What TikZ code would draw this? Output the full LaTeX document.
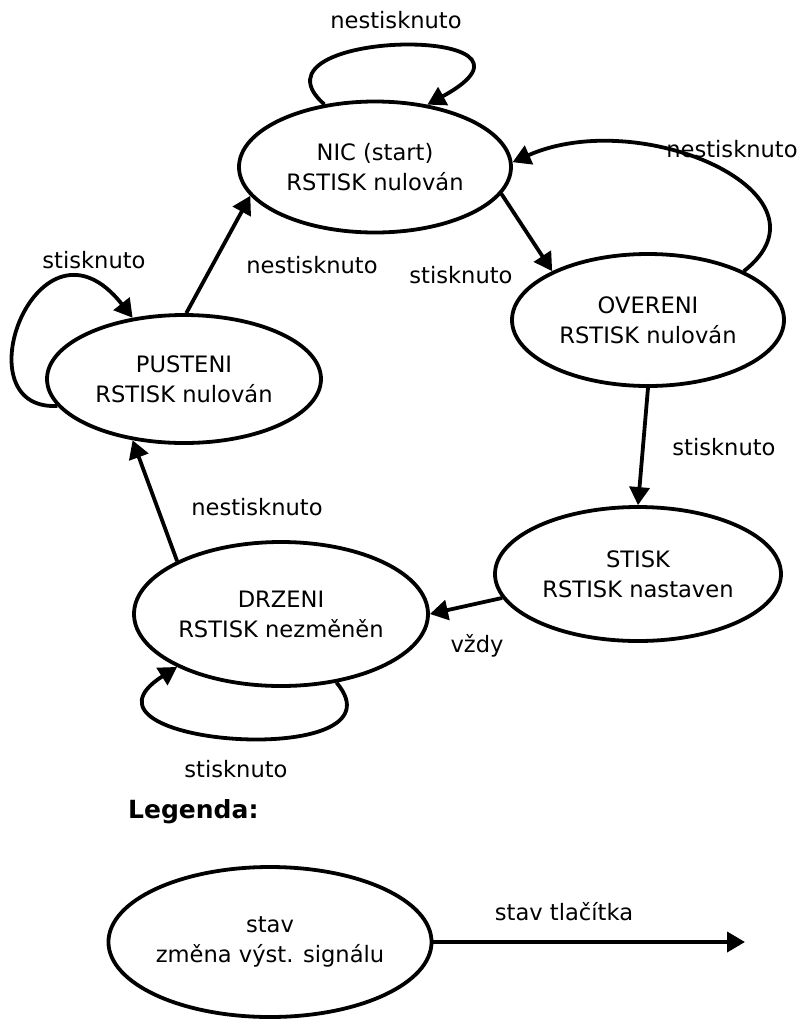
\documentclass[tikz,border=0pt]{standalone}
\usepackage{fontspec}
\setmainfont{DejaVu Sans}
\usetikzlibrary{shapes.geometric,arrows.meta}

\tikzset{
    statebox/.style={draw,ellipse,line width=3.8pt,inner sep=0pt,align=center,font=\fontsize{22.6}{30}\selectfont},
    trans/.style={line width=3.8pt,-{Triangle[length=18pt,width=20pt]}},
    lbl/.style={anchor=base,inner sep=0pt,font=\fontsize{22.6}{30}\selectfont},
}

\begin{document}
\begin{tikzpicture}[x=1pt,y=-1pt]
    \useasboundingbox (0,0) rectangle (797,1021);
    %% States
    \node[statebox,minimum width=272pt,minimum height=131pt] (nic) at (375,167) {NIC (start)\\RSTISK nulován};
    \node[statebox,minimum width=272pt,minimum height=132pt] (over) at (648,320) {OVERENI\\RSTISK nulován};
    \node[statebox,minimum width=286pt,minimum height=134pt] (stisk) at (638,574) {STISK\\RSTISK nastaven};
    \node[statebox,minimum width=294pt,minimum height=144pt] (drz) at (281,614) {DRZENI\\RSTISK nezměněn};
    \node[statebox,minimum width=274pt,minimum height=128pt] (pust) at (184,379) {PUSTENI\\RSTISK nulován};
    %% Transitions
    \draw[trans] (nic.129) .. controls +(-86,-76) and +(149,-81) .. (nic.50);
    \draw[trans] (nic.-12) -- (over.153);
    \draw[trans] (over.27) .. controls +(98,-77) and +(129,-57) .. (nic.2);
    \draw[trans] (over.south) -- (stisk.north);
    \draw[trans] (stisk.190) -- (drz.east);
    \draw[trans] (drz.153) -- (pust.230);
    \draw[trans] (drz.-51) .. controls +(75,89) and +(-124,79) .. (drz.207);
    \draw[trans] (pust.88) -- (nic.193);
    \draw[trans] (pust.192) .. controls +(-99,5) and +(-94,-119) .. (pust.130);
    %% Labels
    \node[lbl] (l1) at (396,28) {nestisknuto};
    \node[lbl] (l2) at (461,283) {stisknuto};
    \node[lbl] (l3) at (732,157) {nestisknuto};
    \node[lbl] (l4) at (94,268) {stisknuto};
    \node[lbl] (l5) at (312,273) {nestisknuto};
    \node[lbl] (l6) at (724,455) {stisknuto};
    \node[lbl] (l7) at (257,515) {nestisknuto};
    \node[lbl] (l8) at (477,652) {vždy};
    \node[lbl] (l9) at (236,777) {stisknuto};
    %% Legend
    \node[lbl,anchor=base west,font=\fontsize{25}{30}\selectfont\bfseries] (leg) at (128,818) {Legenda:};
    \node[statebox,minimum width=316pt,minimum height=150pt] (stav) at (270,942) {stav\\změna výst. signálu};
    \coordinate (stavend) at (745,942);
    \draw[trans] (stav.east) -- (stavend);
    \node[lbl] (stavlbl) at (564,920) {stav tlačítka};
\end{tikzpicture}
\end{document}
